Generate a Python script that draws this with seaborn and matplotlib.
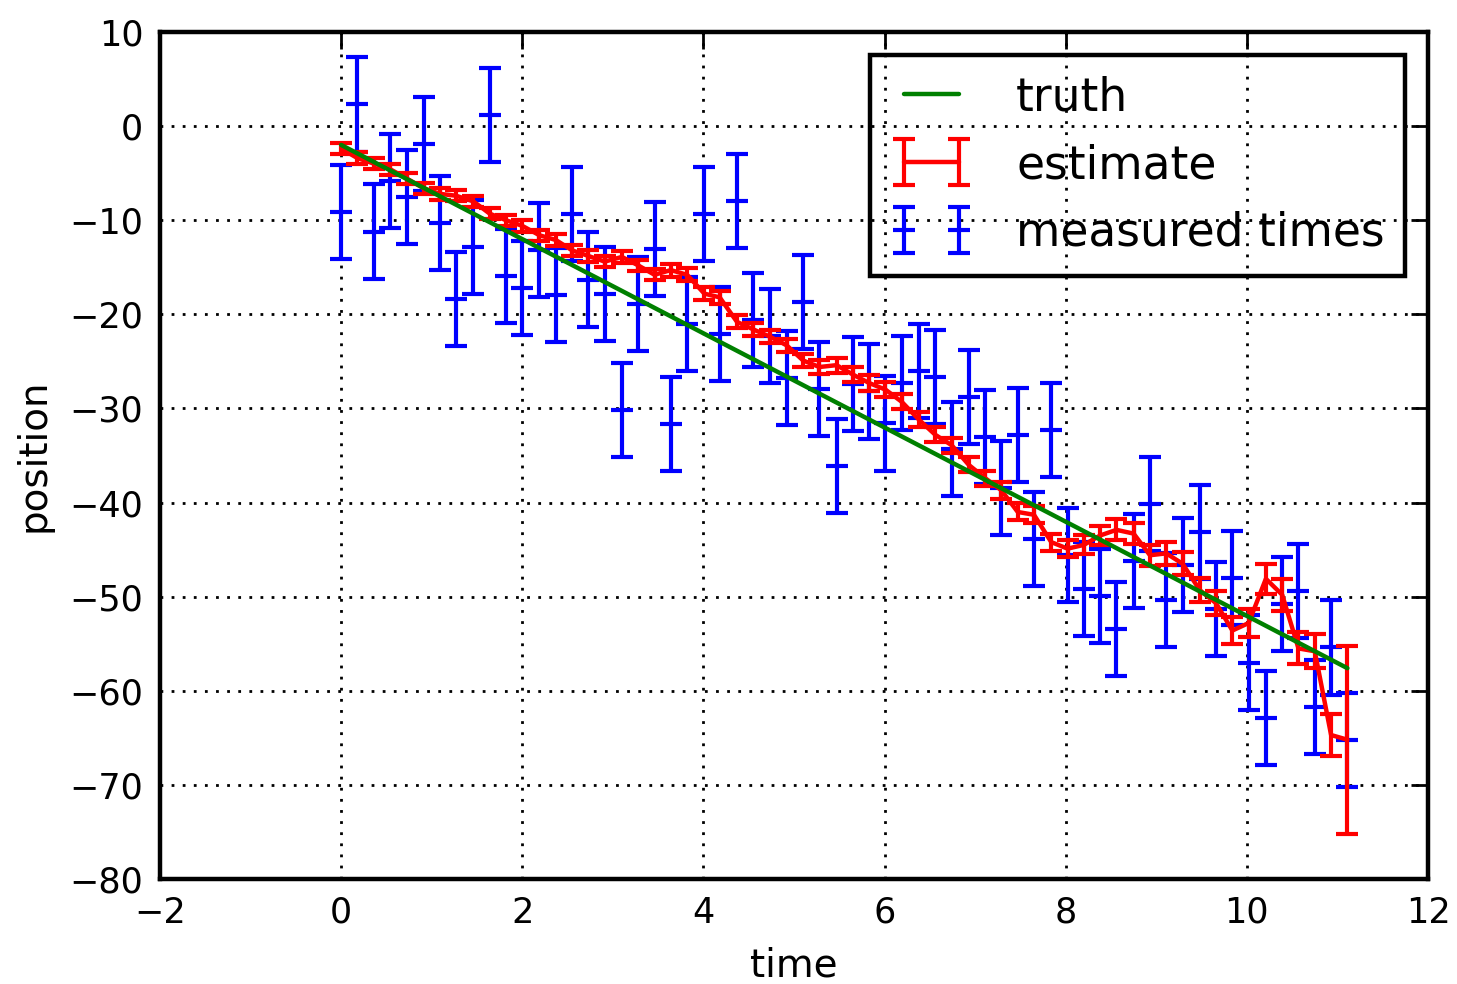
import numpy as np
import pandas as pd
import matplotlib
matplotlib.use("Agg")
import matplotlib.pyplot as plt
import seaborn as sns

# ---- data ----
times = [0.00, 0.18, 0.365, 0.545, 0.73, 0.91, 1.09, 1.27, 1.46, 1.64,
         1.82, 2.00, 2.19, 2.37, 2.55, 2.73, 2.91, 3.10, 3.28, 3.46,
         3.64, 3.82, 4.01, 4.18, 4.37, 4.55, 4.74, 4.92, 5.10, 5.28,
         5.47, 5.65, 5.83, 6.01, 6.19, 6.38, 6.56, 6.74, 6.93, 7.11,
         7.29, 7.47, 7.65, 7.84, 8.02, 8.20, 8.38, 8.56, 8.75, 8.93,
         9.11, 9.29, 9.48, 9.66, 9.84, 10.02, 10.21, 10.39, 10.57, 10.75,
         10.93, 11.11]

measured = [-9.1, 2.3, -11.2, -5.8, -7.5, -1.9, -10.3, -18.4, -12.8, 1.2,
            -15.9, -17.2, -13.2, -17.9, -9.3, -16.3, -17.8, -30.2, -18.9, -13.1,
            -31.7, -21.0, -9.3, -22.1, -8.0, -20.6, -22.3, -26.8, -18.7, -27.9,
            -36.1, -27.4, -28.2, -31.6, -27.3, -26.0, -26.7, -34.3, -28.8, -33.0,
            -38.5, -32.8, -43.9, -32.3, -45.6, -49.2, -49.9, -53.4, -46.2, -40.2,
            -50.4, -46.6, -43.1, -51.3, -48.0, -57.0, -62.9, -50.8, -49.4, -61.7,
            -55.4, -65.2]
measured_err = [5.0] * 62

estimate = [-2.4, -3.4, -4.0, -4.6, -5.6, -6.6, -7.2, -7.4, -8.0, -9.3,
            -10.0, -10.6, -11.6, -12.1, -13.2, -13.8, -14.4, -13.9, -14.8, -15.8,
            -15.3, -15.8, -17.8, -18.2, -20.8, -21.6, -22.4, -23.3, -24.9, -25.6,
            -25.4, -26.4, -27.3, -28.0, -29.3, -31.2, -32.8, -33.9, -36.0, -37.4,
            -38.7, -41.0, -41.3, -44.2, -44.9, -44.5, -43.5, -42.9, -43.3, -45.6,
            -45.4, -46.5, -49.3, -50.7, -53.6, -52.8, -48.1, -49.8, -55.5, -55.8,
            -64.7, -65.2]
estimate_err = [0.6, 0.6, 0.6, 0.6, 0.6, 0.6, 0.6, 0.6, 0.6, 0.6,
                0.6, 0.6, 0.6, 0.6, 0.6, 0.6, 0.6, 0.6, 0.6, 0.6,
                0.7, 0.7, 0.7, 0.7, 0.7, 0.7, 0.7, 0.7, 0.7, 0.7,
                0.8, 0.8, 0.8, 0.8, 0.8, 0.8, 0.8, 0.8, 0.8, 0.8,
                0.9, 0.9, 0.9, 0.9, 0.9, 1.0, 1.0, 1.1, 1.1, 1.1,
                1.2, 1.2, 1.3, 1.3, 1.4, 1.5, 1.6, 1.7, 1.7, 1.8,
                2.2, 10.0]

truth_t = [0.0, 11.11]
truth_pos = [-2.0, -57.6]

# ---- style ----
sns.set_style("white")
plt.rcParams["font.family"] = ["DejaVu Sans"]
plt.rcParams["axes.unicode_minus"] = True
plt.rcParams["text.color"] = "black"
plt.rcParams["axes.labelcolor"] = "black"
plt.rcParams["xtick.color"] = "black"
plt.rcParams["ytick.color"] = "black"

fig = plt.figure(figsize=(7.285, 4.92), dpi=200)
ax = fig.add_axes([0.1098, 0.1067, 0.8703, 0.8608])

ax.errorbar(times, measured, yerr=measured_err, fmt="_", color="blue",
            ecolor="blue", elinewidth=1.5, capsize=4, capthick=1.5,
            markersize=8, markeredgewidth=1.5, linestyle="none",
            label="measured times", zorder=2)
ax.errorbar(times, estimate, yerr=estimate_err, color="red", ecolor="red",
            linewidth=1.6, elinewidth=1.5, capsize=4, capthick=1.5,
            label="estimate", zorder=3)
truth_df = pd.DataFrame({"time": truth_t, "position": truth_pos})
sns.lineplot(data=truth_df, x="time", y="position", color="green",
             linewidth=1.6, label="truth", ax=ax, zorder=4)

ax.set_xlim(-2, 12)
ax.set_ylim(-80, 10)
ax.set_xticks(np.arange(-2, 13, 2))
ax.set_yticks(np.arange(-80, 11, 10))
ax.grid(True, color="black", linestyle=(0, (1, 3)), linewidth=1.0)
ax.tick_params(direction="in", length=6, width=1, top=True, right=True,
               labelsize=12.6, pad=6, colors="black")
for s in ax.spines.values():
    s.set_linewidth(1.6)
    s.set_color("black")
ax.set_xlabel("time", fontsize=14, labelpad=6)
ax.set_ylabel("position", fontsize=14, labelpad=6)

handles, labels = ax.get_legend_handles_labels()
order = [labels.index("truth"), labels.index("estimate"), labels.index("measured times")]
leg = ax.legend([handles[i] for i in order], [labels[i] for i in order],
                loc="upper right", fontsize=16.4, numpoints=2, fancybox=False,
                frameon=True, framealpha=1, borderaxespad=0.5, handlelength=1.8,
                handletextpad=0.95, labelspacing=0.5, borderpad=0.45)
leg.get_frame().set_facecolor("none")
leg.get_frame().set_edgecolor("black")
leg.get_frame().set_linewidth(1.6)

fig.savefig("out.png", dpi=200)
